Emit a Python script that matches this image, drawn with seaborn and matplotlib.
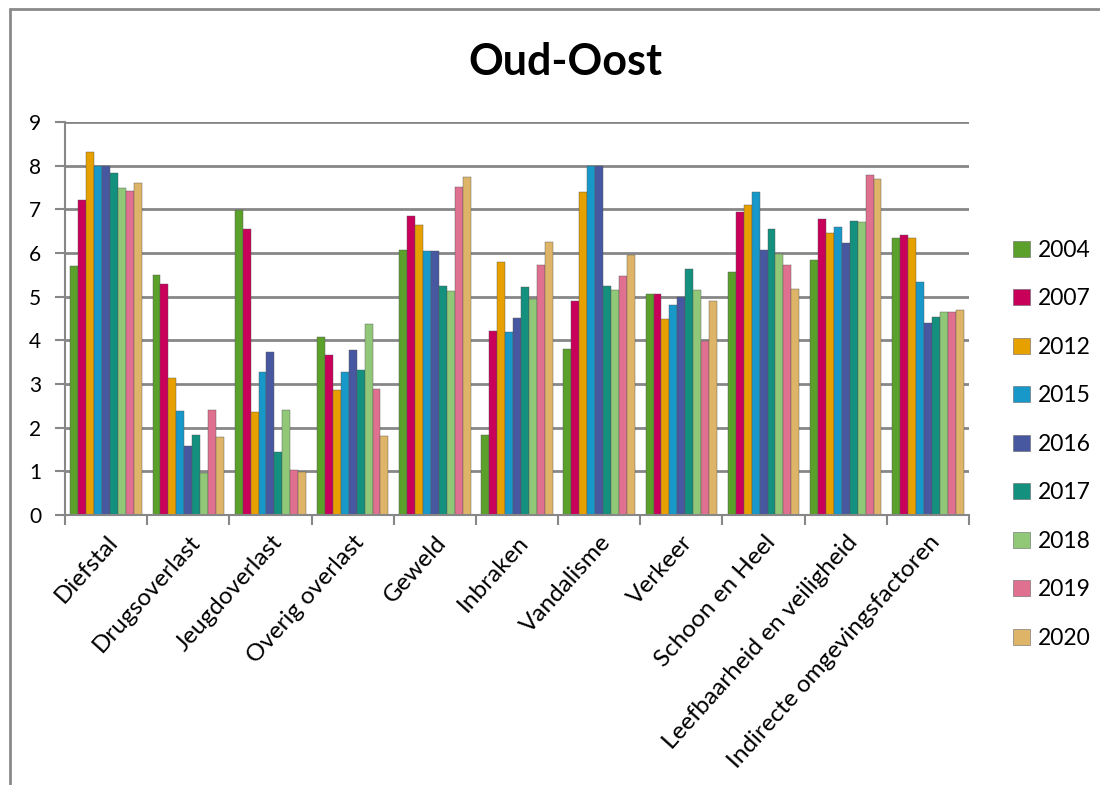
import matplotlib
matplotlib.use("Agg")
import matplotlib.pyplot as plt
import seaborn as sns
import pandas as pd
import numpy as np
from matplotlib.patches import Rectangle
from matplotlib.lines import Line2D

categories = ["Diefstal", "Drugsoverlast", "Jeugdoverlast", "Overig overlast", "Geweld",
              "Inbraken", "Vandalisme", "Verkeer", "Schoon en Heel",
              "Leefbaarheid en veiligheid", "Indirecte omgevingsfactoren"]
years = ["2004", "2007", "2012", "2015", "2016", "2017", "2018", "2019", "2020"]

v2004 = [5.71, 5.50, 6.99, 4.08, 6.07, 1.82, 3.79, 5.06, 5.56, 5.84, 6.34]
v2007 = [7.22, 5.30, 6.54, 3.66, 6.84, 4.21, 4.89, 5.06, 6.93, 6.78, 6.42]
v2012 = [8.31, 3.13, 2.35, 2.87, 6.63, 5.80, 7.39, 4.48, 7.10, 6.46, 6.34]
v2015 = [8.00, 2.39, 3.27, 3.27, 6.04, 4.18, 8.00, 4.80, 7.39, 6.60, 5.33]
v2016 = [8.00, 1.59, 3.74, 3.77, 6.04, 4.52, 8.00, 5.00, 6.07, 6.22, 4.39]
v2017 = [7.83, 1.82, 1.44, 3.33, 5.24, 5.21, 5.24, 5.63, 6.54, 6.74, 4.54]
v2018 = [7.49, 0.97, 2.41, 4.37, 5.12, 4.94, 5.16, 5.15, 5.98, 6.70, 4.65]
v2019 = [7.43, 2.41, 1.02, 2.89, 7.51, 5.72, 5.48, 3.98, 5.72, 7.79, 4.65]
v2020 = [7.60, 1.78, 0.98, 1.80, 7.74, 6.25, 5.95, 4.89, 5.18, 7.69, 4.69]

colors = ["#5ca02c", "#c8005a", "#e6a000", "#1898c8", "#4858a0",
          "#14907e", "#90c878", "#e07090", "#deb468"]

series = [v2004, v2007, v2012, v2015, v2016, v2017, v2018, v2019, v2020]
rows = []
for y, vals in zip(years, series):
    for c, v in zip(categories, vals):
        rows.append({"Categorie": c, "Jaar": y, "Score": v})
df = pd.DataFrame(rows)

sns.set_style("white")
plt.rcParams["font.family"] = ["Lato", "DejaVu Sans"]
plt.rcParams["text.color"] = "black"
plt.rcParams["xtick.color"] = "black"
plt.rcParams["ytick.color"] = "black"

fig = plt.figure(figsize=(11, 7.85), dpi=100)
ax = fig.add_axes([0.0591, 0.344, 0.8218, 0.5006])

sns.barplot(data=df, x="Categorie", y="Score", hue="Jaar", order=categories,
            hue_order=years, palette=colors, ax=ax, width=0.87,
            edgecolor="#555555", linewidth=0.3, legend=False, saturation=1)

ax.set_ylim(0, 9)
ax.set_xlim(-0.5, len(categories) - 0.5)
ax.set_yticks(range(0, 10))
ax.yaxis.grid(True, color="#878787", linewidth=2)
ax.set_axisbelow(True)
ax.set_xlabel("")
ax.set_ylabel("")
for s in ["top", "right"]:
    ax.spines[s].set_visible(False)
for s in ["left", "bottom"]:
    ax.spines[s].set_color("#878787")
    ax.spines[s].set_linewidth(1.5)

ax.tick_params(axis="y", which="major", length=7, width=1.5, color="#878787",
               labelcolor="black", labelsize=15, pad=10, left=True)
ax.set_xticks(np.arange(len(categories)))
ax.set_xticklabels(categories, rotation=48, ha="right", rotation_mode="anchor",
                   fontsize=17.5, color="black")
ax.tick_params(axis="x", which="major", length=0, pad=12)
ax.set_xticks(np.arange(-0.5, len(categories)), minor=True)
ax.tick_params(axis="x", which="minor", length=7, width=1.5, color="#878787",
               bottom=True)

fig.text(0.514, 0.921, "Oud-Oost", ha="center", va="center", fontsize=31,
         fontweight="bold", color="black")

handles = [Rectangle((0, 0), 1, 1, facecolor=c, edgecolor="#666666", linewidth=0.4)
           for c in colors]
leg = fig.legend(handles, years, loc="upper left", bbox_to_anchor=(0.902, 0.721),
                 frameon=False, fontsize=16.5, handlelength=0.75, handleheight=0.7,
                 handletextpad=0.35, labelspacing=1.2)

fig.add_artist(Line2D([0.0091, 0.0091], [0.0, 0.9885], transform=fig.transFigure,
                      color="#8a8a8a", linewidth=2))
fig.add_artist(Line2D([0.0091, 1.0], [0.9885, 0.9885], transform=fig.transFigure,
                      color="#8a8a8a", linewidth=2))

fig.savefig("out.png", dpi=100)
